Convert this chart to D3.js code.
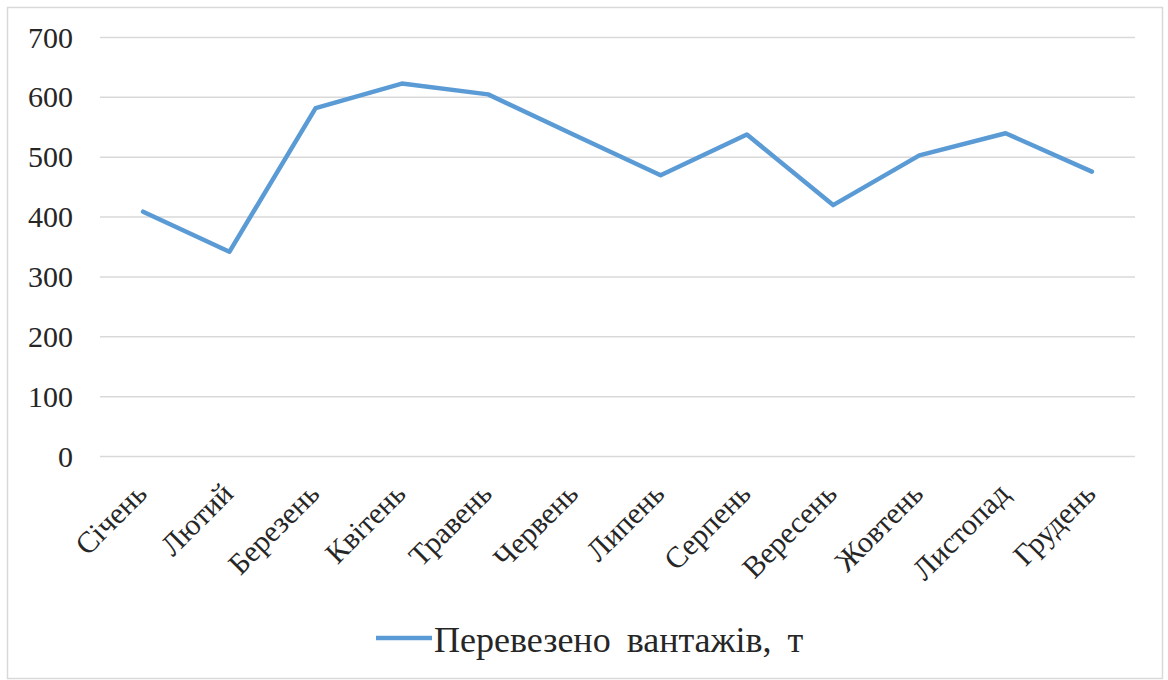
<!DOCTYPE html>
<html>
<head>
<meta charset="utf-8">
<script src="https://cdn.jsdelivr.net/npm/d3@7/dist/d3.min.js"></script>
<style>
  html, body { margin: 0; padding: 0; background: #fff; }
  svg { display: block; }
  text { font-family: "Liberation Serif", "Times New Roman", serif; fill: #262626; }
</style>
</head>
<body>
<svg id="chart" width="1168" height="680"></svg>
<script>
// Monthly cargo volume, tonnes
const months = ["Січень", "Лютий", "Березень", "Квітень", "Травень", "Червень",
                "Липень", "Серпень", "Вересень", "Жовтень", "Листопад", "Грудень"];
const cargo = [409, 342, 582, 623, 605, 537, 470, 538, 420, 503, 540, 476];
const yTicks = [0, 100, 200, 300, 400, 500, 600, 700];
const seriesName = "Перевезено вантажів, т";

const svg = d3.select("#chart");
const plot = { left: 100, right: 1135, top: 37.5, bottom: 456.5 };

// chart frame
svg.append("rect")
  .attr("x", 7.5).attr("y", 7.5)
  .attr("width", 1155).attr("height", 671)
  .attr("fill", "#fff").attr("stroke", "#d9d9d9").attr("stroke-width", 1.5);

const x = d3.scalePoint().domain(months).range([plot.left, plot.right]).padding(0.5);
const y = d3.scaleLinear().domain([0, 700]).range([plot.bottom, plot.top]);

// horizontal gridlines
svg.append("g").selectAll("line").data(yTicks).join("line")
  .attr("x1", plot.left).attr("x2", plot.right)
  .attr("y1", d => y(d)).attr("y2", d => y(d))
  .attr("stroke", "#d9d9d9").attr("stroke-width", 1.5);

// y axis labels
const yAxis = svg.append("g")
  .attr("transform", `translate(${plot.left},0)`)
  .call(d3.axisLeft(y).tickValues(yTicks).tickSize(0).tickPadding(27));
yAxis.select(".domain").remove();
yAxis.selectAll("text")
  .attr("font-size", 30)
  .attr("font-family", "Liberation Serif, serif")
  .attr("fill", "#262626");

// x axis labels, rotated
const xAxis = svg.append("g")
  .attr("transform", `translate(0,${plot.bottom})`)
  .call(d3.axisBottom(x).tickSize(0).tickPadding(0));
xAxis.select(".domain").remove();
xAxis.selectAll("text")
  .attr("font-size", 30)
  .attr("font-family", "Liberation Serif, serif")
  .attr("fill", "#262626")
  .attr("text-anchor", "end")
  .attr("dy", 0)
  .attr("transform", "translate(5,39) rotate(-45)");

// data line
const line = d3.line()
  .x((d, i) => x(months[i]))
  .y(d => y(d));

svg.append("path")
  .datum(cargo)
  .attr("d", line)
  .attr("fill", "none")
  .attr("stroke", "#5b9bd5")
  .attr("stroke-width", 4.5)
  .attr("stroke-linejoin", "round")
  .attr("stroke-linecap", "round");

// legend
const lg = svg.append("g").attr("transform", "translate(376,638)");
lg.append("line")
  .attr("x1", 0).attr("x2", 56).attr("y1", 0).attr("y2", 0)
  .attr("stroke", "#5b9bd5").attr("stroke-width", 4.5);
lg.append("text")
  .attr("x", 58).attr("y", 14)
  .attr("font-size", 36)
  .attr("word-spacing", 7)
  .text(seriesName);
</script>
</body>
</html>
